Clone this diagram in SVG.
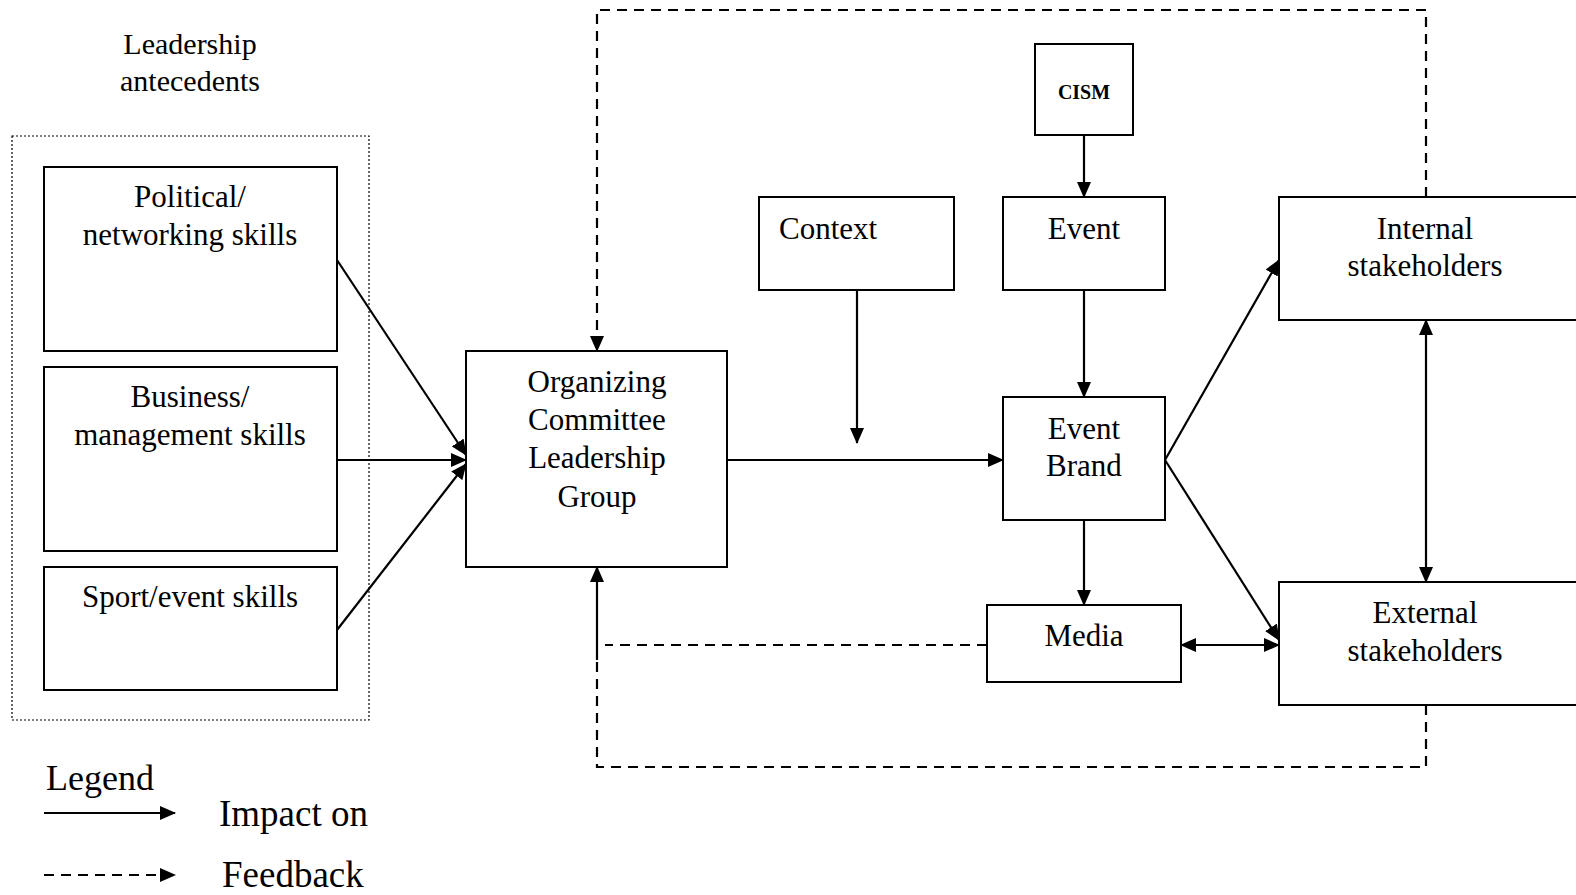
<svg xmlns="http://www.w3.org/2000/svg" width="1576" height="895" viewBox="0 0 1576 895">
<style>
text{font-family:"Liberation Serif","Times New Roman",serif;fill:#000}
.t{font-size:31px;text-anchor:middle}
.box{fill:#fff;stroke:#000;stroke-width:2}
.ln{fill:none;stroke:#000;stroke-width:2.2}
.ds{fill:none;stroke:#000;stroke-width:2.2;stroke-dasharray:10,7}
</style>
<defs>
<marker id="ah" markerUnits="userSpaceOnUse" markerWidth="16" markerHeight="14" refX="15" refY="7" orient="auto">
<path d="M0,0 L16,7 L0,14 Z" fill="#000"/>
</marker>
<marker id="as" markerUnits="userSpaceOnUse" markerWidth="16" markerHeight="14" refX="1" refY="7" orient="auto">
<path d="M16,0 L0,7 L16,14 Z" fill="#000"/>
</marker>
</defs>
<rect width="1576" height="895" fill="#fff"/>

<g id="antecedents-label">
<text class="t" x="190" y="54" style="font-size:30px">Leadership</text>
<text class="t" x="190" y="91" style="font-size:30px">antecedents</text>
</g>
<g id="antecedents-group">
<rect x="12" y="136" width="357" height="584" fill="none" stroke="#000" stroke-width="1.2" stroke-dasharray="2,2"/>
</g>
<g id="political">
<rect class="box" x="44" y="167" width="293" height="184"/>
<text class="t" x="190" y="207">Political/</text>
<text class="t" x="190" y="245">networking skills</text>
</g>
<g id="business">
<rect class="box" x="44" y="367" width="293" height="184"/>
<text class="t" x="190" y="407">Business/</text>
<text class="t" x="190" y="445">management skills</text>
</g>
<g id="sport">
<rect class="box" x="44" y="567" width="293" height="123"/>
<text class="t" x="190" y="607">Sport/event skills</text>
</g>
<g id="organizing">
<rect class="box" x="466" y="351" width="261" height="216"/>
<text class="t" x="597" y="392">Organizing</text>
<text class="t" x="597" y="430">Committee</text>
<text class="t" x="597" y="468">Leadership</text>
<text class="t" x="597" y="507">Group</text>
</g>
<g id="context">
<rect class="box" x="759" y="197" width="195" height="93"/>
<text x="779" y="239" style="font-size:31px">Context</text>
</g>
<g id="cism">
<rect class="box" x="1035" y="44" width="98" height="91"/>
<text x="1084" y="99" style="font-size:20px;font-weight:bold;text-anchor:middle">CISM</text>
</g>
<g id="event">
<rect class="box" x="1003" y="197" width="162" height="93"/>
<text class="t" x="1084" y="239">Event</text>
</g>
<g id="event-brand">
<rect class="box" x="1003" y="397" width="162" height="123"/>
<text class="t" x="1084" y="439">Event</text>
<text class="t" x="1084" y="476">Brand</text>
</g>
<g id="media">
<rect class="box" x="987" y="605" width="194" height="77"/>
<text class="t" x="1084" y="646">Media</text>
</g>
<g id="internal">
<rect class="box" x="1279" y="197" width="310" height="123"/>
<text class="t" x="1425" y="239">Internal</text>
<text class="t" x="1425" y="276">stakeholders</text>
</g>
<g id="external">
<rect class="box" x="1279" y="582" width="310" height="123"/>
<text class="t" x="1425" y="623">External</text>
<text class="t" x="1425" y="661">stakeholders</text>
</g>

<g id="connectors">
<line class="ln" x1="337" y1="260" x2="466" y2="455" marker-end="url(#ah)"/>
<line class="ln" x1="337" y1="460" x2="466" y2="460" marker-end="url(#ah)"/>
<line class="ln" x1="337" y1="630" x2="466" y2="464" marker-end="url(#ah)"/>
<line class="ln" x1="727" y1="460" x2="1003" y2="460" marker-end="url(#ah)"/>
<line class="ln" x1="857" y1="290" x2="857" y2="443" marker-end="url(#ah)"/>
<line class="ln" x1="1084" y1="135" x2="1084" y2="197" marker-end="url(#ah)"/>
<line class="ln" x1="1084" y1="290" x2="1084" y2="397" marker-end="url(#ah)"/>
<line class="ln" x1="1084" y1="520" x2="1084" y2="605" marker-end="url(#ah)"/>
<line class="ln" x1="1165" y1="460" x2="1279" y2="260" marker-end="url(#ah)"/>
<line class="ln" x1="1165" y1="460" x2="1279" y2="640" marker-end="url(#ah)"/>
<line class="ln" x1="1181" y1="645" x2="1279" y2="645" marker-start="url(#as)" marker-end="url(#ah)"/>
<line class="ln" x1="1426" y1="320" x2="1426" y2="582" marker-start="url(#as)" marker-end="url(#ah)"/>
<polyline class="ds" points="1426,197 1426,10 597,10 597,351" marker-end="url(#ah)"/>
<polyline class="ds" points="1426,705 1426,767 597,767 597,658"/>
<line class="ds" x1="987" y1="645" x2="605" y2="645"/>
<line class="ln" x1="597" y1="660" x2="597" y2="567" marker-end="url(#ah)"/>
</g>

<g id="legend">
<text x="46" y="790" style="font-size:36px">Legend</text>
<line class="ln" x1="44" y1="813" x2="175" y2="813" marker-end="url(#ah)"/>
<text x="219" y="826" style="font-size:37px">Impact on</text>
<line class="ds" x1="44" y1="875" x2="175" y2="875" marker-end="url(#ah)"/>
<text x="222" y="887" style="font-size:37px">Feedback</text>
</g>
</svg>
